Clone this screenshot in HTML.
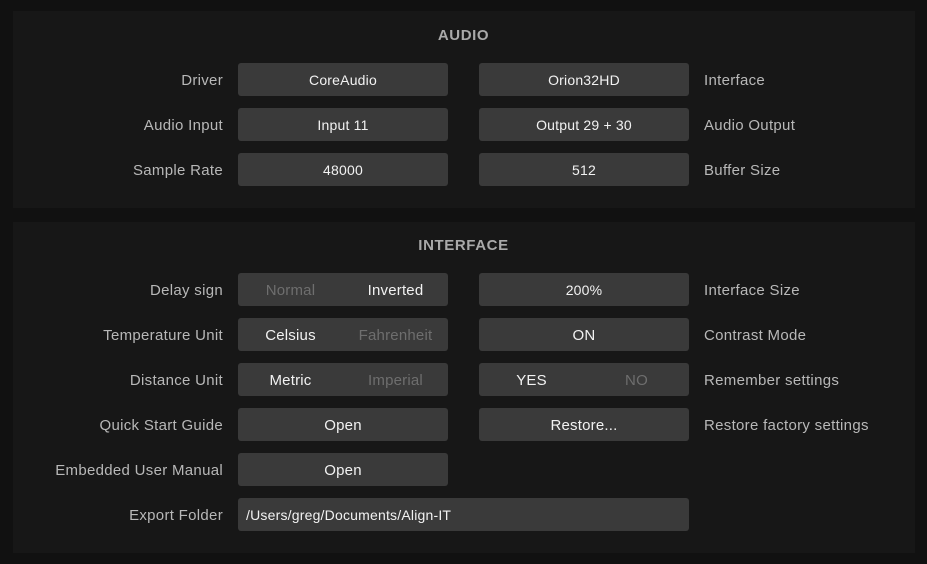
<!DOCTYPE html>
<html><head><style>
body{margin:0;width:927px;height:564px;background:#111;position:relative;font-family:"Liberation Sans",sans-serif;overflow:hidden}
.p{position:absolute;left:13px;width:902px;background:#171717}
.t{position:absolute;left:0;width:927px;text-align:center;color:#a9a9a9;font-weight:bold;font-size:15px;letter-spacing:.6px}
.l{position:absolute;right:704px;font-size:15px;color:#b8b8b8;line-height:35px;white-space:nowrap;letter-spacing:.3px}
.r{position:absolute;left:704px;font-size:15px;color:#b8b8b8;line-height:35px;white-space:nowrap;letter-spacing:.3px}
.b{position:absolute;height:33px;width:210px;background:#3a3a3a;border-radius:3px;color:#f2f2f2;font-size:14px;line-height:35px;text-align:center;display:flex;letter-spacing:.2px}
.b span{flex:1}
.d{color:#6e6e6e}
</style></head><body>
<div class="p" style="top:11px;height:197px"></div>
<div class="p" style="top:222px;height:331px"></div>
<div class="t" style="top:27px">AUDIO</div>
<div class="t" style="top:237px">INTERFACE</div>

<div class="l" style="top:63px">Driver</div>
<div class="b" style="left:238px;top:63px"><span>CoreAudio</span></div>
<div class="b" style="left:479px;top:63px"><span>Orion32HD</span></div>
<div class="r" style="top:63px">Interface</div>

<div class="l" style="top:108px">Audio Input</div>
<div class="b" style="left:238px;top:108px"><span>Input 11</span></div>
<div class="b" style="left:479px;top:108px"><span>Output 29 + 30</span></div>
<div class="r" style="top:108px">Audio Output</div>

<div class="l" style="top:153px">Sample Rate</div>
<div class="b" style="left:238px;top:153px"><span>48000</span></div>
<div class="b" style="left:479px;top:153px"><span>512</span></div>
<div class="r" style="top:153px">Buffer Size</div>

<div class="l" style="top:273px">Delay sign</div>
<div class="b" style="left:238px;top:273px;font-size:15px"><span class="d">Normal</span><span>Inverted</span></div>
<div class="b" style="left:479px;top:273px"><span>200%</span></div>
<div class="r" style="top:273px">Interface Size</div>

<div class="l" style="top:318px">Temperature Unit</div>
<div class="b" style="left:238px;top:318px;font-size:15px"><span>Celsius</span><span class="d">Fahrenheit</span></div>
<div class="b" style="left:479px;top:318px;font-size:15px"><span>ON</span></div>
<div class="r" style="top:318px">Contrast Mode</div>

<div class="l" style="top:363px">Distance Unit</div>
<div class="b" style="left:238px;top:363px;font-size:15px"><span>Metric</span><span class="d">Imperial</span></div>
<div class="b" style="left:479px;top:363px;font-size:15px"><span>YES</span><span class="d">NO</span></div>
<div class="r" style="top:363px">Remember settings</div>

<div class="l" style="top:408px">Quick Start Guide</div>
<div class="b" style="left:238px;top:408px;font-size:15px"><span>Open</span></div>
<div class="b" style="left:479px;top:408px;font-size:15px"><span>Restore...</span></div>
<div class="r" style="top:408px">Restore factory settings</div>

<div class="l" style="top:453px">Embedded User Manual</div>
<div class="b" style="left:238px;top:453px;font-size:15px"><span>Open</span></div>

<div class="l" style="top:498px">Export Folder</div>
<div class="b" style="left:238px;top:498px;width:451px;text-align:left"><span style="padding-left:8px">/Users/greg/Documents/Align-IT</span></div>
</body></html>
